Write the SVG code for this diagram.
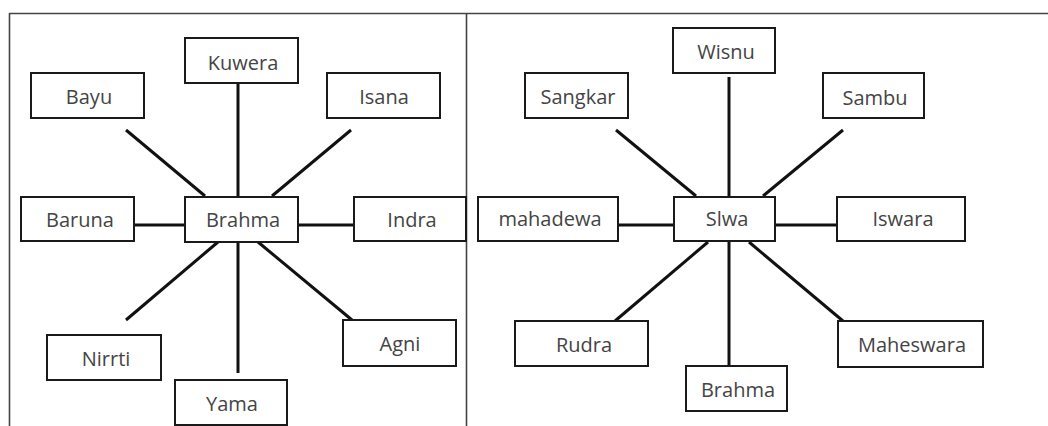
<svg xmlns="http://www.w3.org/2000/svg" width="1048" height="426" viewBox="0 0 1048 426">
<style>
.box{fill:#fff;stroke:#1a1a1a;stroke-width:2}
.lbl{font-family:"Open Sans","Liberation Sans",sans-serif;font-size:20px;fill:#444;text-anchor:middle}
.con{stroke:#111;stroke-width:3;fill:none;stroke-linecap:butt}
.frame{stroke:#444;stroke-width:1.6;fill:none}
</style>
<rect width="1048" height="426" fill="#fff"/>
<g id="frame">
<line class="frame" x1="9.5" y1="13.5" x2="1048" y2="13.5"/>
<line class="frame" x1="9.5" y1="13" x2="9.5" y2="426"/>
<line class="frame" x1="466.5" y1="13" x2="466.5" y2="426"/>
</g>
<g id="connectors">
<line class="con" x1="238" y1="83" x2="238" y2="197"/>
<line class="con" x1="126" y1="130" x2="205" y2="196"/>
<line class="con" x1="351" y1="130" x2="272" y2="196"/>
<line class="con" x1="134" y1="225" x2="185" y2="225"/>
<line class="con" x1="298" y1="225" x2="354" y2="225"/>
<line class="con" x1="218" y1="242" x2="126" y2="320"/>
<line class="con" x1="238" y1="242" x2="238" y2="373"/>
<line class="con" x1="258" y1="242" x2="352" y2="320"/>
<line class="con" x1="729" y1="77" x2="729" y2="197"/>
<line class="con" x1="616" y1="130" x2="696" y2="196"/>
<line class="con" x1="843" y1="130" x2="763" y2="196"/>
<line class="con" x1="618" y1="225" x2="674" y2="225"/>
<line class="con" x1="775" y1="225" x2="837" y2="225"/>
<line class="con" x1="708" y1="242" x2="615" y2="321"/>
<line class="con" x1="729" y1="242" x2="729" y2="366"/>
<line class="con" x1="749" y1="242" x2="843" y2="321"/>
</g>
<g id="kuwera"><rect class="box" x="185" y="38" width="113" height="45"/><text class="lbl" x="243" y="70">Kuwera</text></g>
<g id="bayu"><rect class="box" x="31" y="73" width="113" height="45"/><text class="lbl" x="89" y="104">Bayu</text></g>
<g id="isana"><rect class="box" x="327" y="73" width="113" height="45"/><text class="lbl" x="384" y="104">Isana</text></g>
<g id="brahma-center"><rect class="box" x="185" y="197" width="113" height="45"/><text class="lbl" x="243" y="227">Brahma</text></g>
<g id="baruna"><rect class="box" x="21" y="197" width="113" height="44"/><text class="lbl" x="80" y="227">Baruna</text></g>
<g id="indra"><rect class="box" x="354" y="197" width="112" height="44"/><text class="lbl" x="412" y="227">Indra</text></g>
<g id="nirrti"><rect class="box" x="47" y="335" width="114" height="45"/><text class="lbl" x="106" y="366">Nirrti</text></g>
<g id="yama"><rect class="box" x="175" y="380" width="112" height="45"/><text class="lbl" x="232" y="411">Yama</text></g>
<g id="agni"><rect class="box" x="343" y="320" width="113" height="46"/><text class="lbl" x="400" y="351">Agni</text></g>
<g id="wisnu"><rect class="box" x="673" y="28" width="102" height="45"/><text class="lbl" x="726" y="59">Wisnu</text></g>
<g id="sangkar"><rect class="box" x="525" y="73" width="103" height="45"/><text class="lbl" x="578" y="104">Sangkar</text></g>
<g id="sambu"><rect class="box" x="823" y="73" width="101" height="45"/><text class="lbl" x="875" y="105">Sambu</text></g>
<g id="siwa"><rect class="box" x="674" y="197" width="101" height="44"/><text class="lbl" x="727" y="226">Slwa</text></g>
<g id="mahadewa"><rect class="box" x="478" y="197" width="140" height="44"/><text class="lbl" x="550" y="226">mahadewa</text></g>
<g id="iswara"><rect class="box" x="837" y="197" width="128" height="44"/><text class="lbl" x="903" y="226">Iswara</text></g>
<g id="rudra"><rect class="box" x="515" y="321" width="133" height="45"/><text class="lbl" x="584" y="352">Rudra</text></g>
<g id="brahma-bottom"><rect class="box" x="686" y="366" width="101" height="45"/><text class="lbl" x="738" y="397">Brahma</text></g>
<g id="maheswara"><rect class="box" x="838" y="321" width="145" height="46"/><text class="lbl" x="912" y="352">Maheswara</text></g>
</svg>
